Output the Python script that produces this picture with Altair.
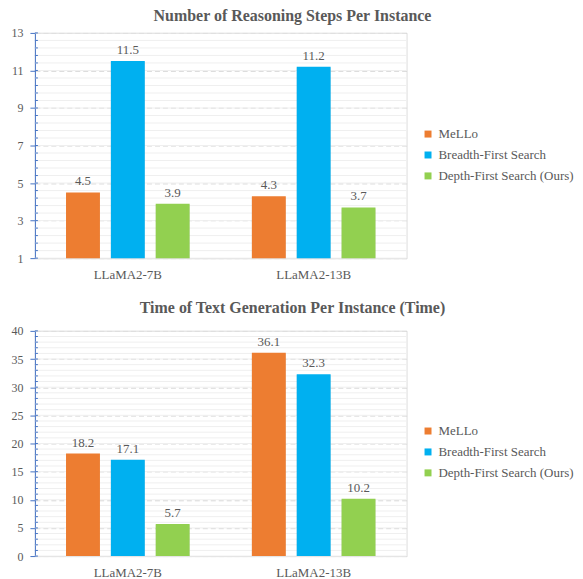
import altair as alt
import pandas as pd

models = ["LLaMA2-7B", "LLaMA2-13B"]
methods = ["MeLLo", "Breadth-First Search", "Depth-First Search (Ours)"]
colors = ["#ED7D31", "#00B0F0", "#92D050"]

steps_mello = [4.5, 4.3]
steps_bfs = [11.5, 11.2]
steps_dfs = [3.9, 3.7]

time_mello = [18.2, 36.1]
time_bfs = [17.1, 32.3]
time_dfs = [5.7, 10.2]

title_top = "Number of Reasoning Steps Per Instance"
title_bottom = "Time of Text Generation Per Instance (Time)"

top_major = [1, 3, 5, 7, 9, 11, 13]
top_minor_step = 0.4
bottom_major = [0, 5, 10, 15, 20, 25, 30, 35, 40]
bottom_minor_step = 1

FONT = "Liberation Serif"
GREY = "#595959"
W, H = 373, 226


def make_df(a, b, c, base):
    rows = []
    for vals, m in zip([a, b, c], methods):
        for model, v in zip(models, vals):
            rows.append({"model": model, "method": m, "value": v, "base": base})
    return pd.DataFrame(rows)


def minor_values(lo, hi, step):
    n = int(round((hi - lo) / step))
    return [round(lo + i * step, 4) for i in range(n + 1)]


def panel(df, title, lo, hi, majors, step, legend_y, offset):
    yscale = alt.Scale(domain=[lo, hi], nice=False, zero=False)
    yaxis = alt.Axis(title=None, values=majors, labelFont=FONT,
                     labelFontSize=12, labelColor=GREY,
                     domainColor="#4472C4", tickColor="#4472C4",
                     tickSize=5, labelPadding=7,
                     grid=True, gridColor="#d4d4d4",
                     gridDash=[5, 3], gridWidth=1)
    xenc = alt.X("model:N", sort=models,
                 scale=alt.Scale(paddingInner=0, paddingOuter=0),
                 axis=alt.Axis(title=None, labelFont=FONT, labelFontSize=13,
                               labelColor=GREY, labelAngle=0, ticks=False,
                               domainColor="#d9d9d9", labelPadding=10))
    xoff = alt.XOffset("method:N", sort=methods,
                       scale=alt.Scale(paddingInner=0.244, paddingOuter=0.694))

    minors = pd.DataFrame({"v": minor_values(lo, hi, step)})
    minor_grid = alt.Chart(minors).mark_rule(color="#efefef", strokeWidth=1).encode(
        y=alt.Y("v:Q", scale=yscale, axis=yaxis),
        x=alt.value(0), x2=alt.value(W))
    inner_ticks = alt.Chart(minors).mark_rule(color="#4472C4", strokeWidth=1).encode(
        y=alt.Y("v:Q", scale=yscale, axis=yaxis),
        x=alt.value(0), x2=alt.value(3))

    shadow = alt.Chart(df).mark_bar(color="#9e9e9e", opacity=0.35,
                                    xOffset=2, yOffset=1).encode(
        x=xenc, xOffset=xoff,
        y=alt.Y("value:Q", scale=yscale, axis=yaxis),
        y2="base:Q")

    bars = alt.Chart(df).mark_bar().encode(
        x=xenc, xOffset=xoff,
        y=alt.Y("value:Q", scale=yscale, axis=yaxis),
        y2="base:Q",
        color=alt.Color("method:N", sort=methods,
                        scale=alt.Scale(domain=methods, range=colors),
                        legend=alt.Legend(title=None, orient="none",
                                          legendX=388, legendY=legend_y,
                                          symbolType="square", symbolSize=49,
                                          symbolStrokeWidth=0,
                                          labelFont=FONT, labelFontSize=13,
                                          labelColor=GREY, rowPadding=7,
                                          labelOffset=4)))

    labels = alt.Chart(df).mark_text(font=FONT, fontSize=13, color=GREY,
                                     baseline="alphabetic", dy=-7).encode(
        x=xenc, xOffset=xoff,
        y=alt.Y("value:Q", scale=yscale, axis=yaxis),
        text=alt.Text("value:Q", format=".1f"))

    return alt.layer(minor_grid, inner_ticks, shadow, bars, labels).properties(
        width=W, height=H,
        title=alt.TitleParams(title, font=FONT, fontSize=16, fontWeight="bold",
                              color=GREY, anchor="middle", frame="bounds",
                              offset=offset))


top = panel(make_df(steps_mello, steps_bfs, steps_dfs, top_major[0]),
            title_top, 1, 13, top_major, top_minor_step, 95, 3)
bottom = panel(make_df(time_mello, time_bfs, time_dfs, bottom_major[0]),
               title_bottom, 0, 40, bottom_major, bottom_minor_step, 94, 9)

chart = alt.vconcat(top, bottom, spacing=17).resolve_legend(
    color="independent").resolve_scale(y="independent").properties(
    padding={"left": 2, "top": -2, "right": 0, "bottom": 0}
).configure_view(stroke=None).configure(background="white")

chart.save("out.html", embed_options={"renderer": "svg", "actions": False})
